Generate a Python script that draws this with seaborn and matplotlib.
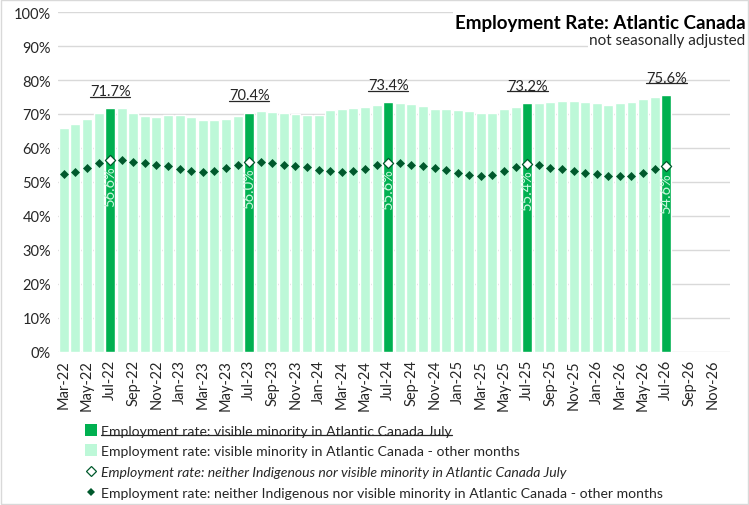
import numpy as np
import pandas as pd
import matplotlib
matplotlib.use("Agg")
import matplotlib.pyplot as plt
from matplotlib.lines import Line2D
from matplotlib.patches import Rectangle
import seaborn as sns

# ---------------- data ----------------
months = [d.strftime("%b-%y") for d in pd.date_range("2022-03-01", "2026-12-01", freq="MS")]

vm_rate = [65.9, 67.1, 68.5, 70.3, 71.7, 71.8, 70.3, 69.5, 69.2, 69.7,
           69.7, 69.0, 68.2, 68.2, 68.5, 69.5, 70.4, 70.8, 70.6, 70.4,
           70.0, 69.8, 69.8, 71.1, 71.5, 71.8, 72.1, 72.7, 73.4, 73.2,
           72.9, 72.3, 71.5, 71.5, 71.2, 70.9, 70.3, 70.3, 71.5, 72.1,
           73.2, 73.3, 73.6, 73.9, 73.9, 73.6, 73.1, 72.7, 73.1, 73.6,
           74.4, 75.1, 75.6]

neither_rate = [52.4, 52.8, 54.1, 55.5, 56.6, 56.5, 55.9, 55.5, 54.9, 54.7,
                53.9, 53.3, 52.9, 53.3, 54.1, 55.0, 56.0, 56.0, 55.6, 55.0,
                54.6, 54.4, 53.5, 53.2, 52.8, 53.2, 53.9, 54.9, 55.6, 55.6,
                55.0, 54.6, 54.0, 53.5, 52.6, 52.2, 51.9, 52.2, 53.3, 54.4,
                55.4, 55.0, 54.1, 53.7, 53.2, 52.6, 52.4, 51.8, 51.8, 51.9,
                52.6, 53.9, 54.6]

labels_legend = [
    "Employment rate: visible minority in Atlantic Canada July",
    "Employment rate: visible minority in Atlantic Canada - other months",
    "Employment rate: neither Indigenous nor visible minority in Atlantic Canada July",
    "Employment rate: neither Indigenous nor visible minority in Atlantic Canada - other months",
]
title = "Employment Rate: Atlantic Canada"
subtitle = "not seasonally adjusted"

# ---------------- styling ----------------
DARK_BAR = "#00b050"
LIGHT_BAR = "#bdf8d8"
DOT = "#00592c"
INBAR_TXT = "#c9f7dd"
GRID = "#d9d9d9"

sns.set_theme(style="white")
plt.rcParams["font.family"] = ["Lato", "DejaVu Sans"]

n = len(vm_rate)
df = pd.DataFrame({
    "month": months[:n],
    "vm": np.array(vm_rate) / 100,
    "neither": np.array(neither_rate) / 100,
})
df["is_july"] = df["month"].str.startswith("Jul")
df["kind"] = np.where(df["is_july"], "July", "Other")

fig = plt.figure(figsize=(7.49, 5.06), dpi=100)
ax = fig.add_axes([0.0774, 0.3024, 0.8972, 0.6719])

sns.barplot(data=df, x="month", y="vm", hue="kind", order=months,
            hue_order=["July", "Other"], palette={"July": DARK_BAR, "Other": LIGHT_BAR},
            dodge=False, width=0.86, saturation=1, legend=False, ax=ax, zorder=2)

sns.stripplot(data=df[~df["is_july"]], x="month", y="neither", order=months,
              jitter=False, marker="D", size=4.6, color=DOT, linewidth=0,
              ax=ax, zorder=4, legend=False)
sns.stripplot(data=df[df["is_july"]], x="month", y="neither", order=months,
              jitter=False, marker="D", size=5.2, color="white", edgecolor=DOT,
              linewidth=0.9, ax=ax, zorder=4, legend=False)

ax.set_xlim(-0.5, len(months) - 0.5)
ax.set_ylim(0, 1.0)
ax.set_yticks(np.arange(0, 1.01, 0.1))
ax.set_yticklabels([f"{int(round(v*100))}%" for v in np.arange(0, 1.01, 0.1)],
                   fontsize=10.5, color="#262626")
ax.set_xticks(range(len(months)))
ax.set_xticklabels([m if i % 2 == 0 else "" for i, m in enumerate(months)],
                   rotation=90, fontsize=10.5, color="#262626")
ax.tick_params(axis="both", length=0, pad=5)
ax.set_xlabel("")
ax.set_ylabel("")
ax.grid(axis="y", color=GRID, linewidth=1, zorder=0)
ax.set_axisbelow(True)
for s in ax.spines.values():
    s.set_visible(False)

# data labels
underline_texts = []
for i, row in df.iterrows():
    if row["is_july"]:
        t = ax.text(i, row["vm"] + 0.03, f"{row['vm']*100:.1f}%", ha="center",
                    va="bottom", fontsize=10.5, color="#262626", zorder=6)
        underline_texts.append(t)
        ax.text(i, row["neither"] - 0.016, f"{row['neither']*100:.1f}%", ha="center",
                va="top", rotation=90, fontsize=10.5, color=INBAR_TXT, zorder=6)

# title
fig.text(0.995, 0.943, title, ha="right", va="baseline", fontsize=13.5,
         fontweight="bold", color="black",
         bbox=dict(facecolor="white", edgecolor="none", pad=1.5), zorder=10)
fig.text(0.995, 0.912, subtitle, ha="right", va="baseline", fontsize=11,
         color="#262626", bbox=dict(facecolor="white", edgecolor="none", pad=1.0), zorder=10)

# legend
handles = [
    Line2D([], [], marker="s", linestyle="none", markersize=8, markerfacecolor=DARK_BAR, markeredgewidth=0),
    Line2D([], [], marker="s", linestyle="none", markersize=8, markerfacecolor=LIGHT_BAR, markeredgewidth=0),
    Line2D([], [], marker="D", linestyle="none", markersize=5, markerfacecolor="white",
           markeredgecolor=DOT, markeredgewidth=0.9),
    Line2D([], [], marker="D", linestyle="none", markersize=4.5, markerfacecolor=DOT, markeredgewidth=0),
]
leg = fig.legend(handles, labels_legend, loc="upper left", bbox_to_anchor=(0.113, 0.159),
                 frameon=False, fontsize=10.1, handlelength=0.85, handletextpad=0.3,
                 labelspacing=0.63, borderaxespad=0, borderpad=0)
ltexts = leg.get_texts()
for t in ltexts:
    t.set_color("#262626")
ltexts[2].set_fontstyle("italic")
underline_texts.append(ltexts[0])

# border around chart
fig.patches.append(Rectangle((0.001, 0.001), 0.997, 0.997, transform=fig.transFigure,
                             fill=False, edgecolor=GRID, linewidth=1))

# underline texts
fig.canvas.draw()
inv = fig.transFigure.inverted()
for t in underline_texts:
    bb = t.get_window_extent()
    (x0, y0), (x1, _) = inv.transform([[bb.x0, bb.y0 + 1.5], [bb.x1, bb.y0 + 1.5]])
    fig.add_artist(Line2D([x0, x1], [y0, y0], transform=fig.transFigure,
                          color="#262626", linewidth=0.9))

fig.savefig("out.png", dpi=100)
